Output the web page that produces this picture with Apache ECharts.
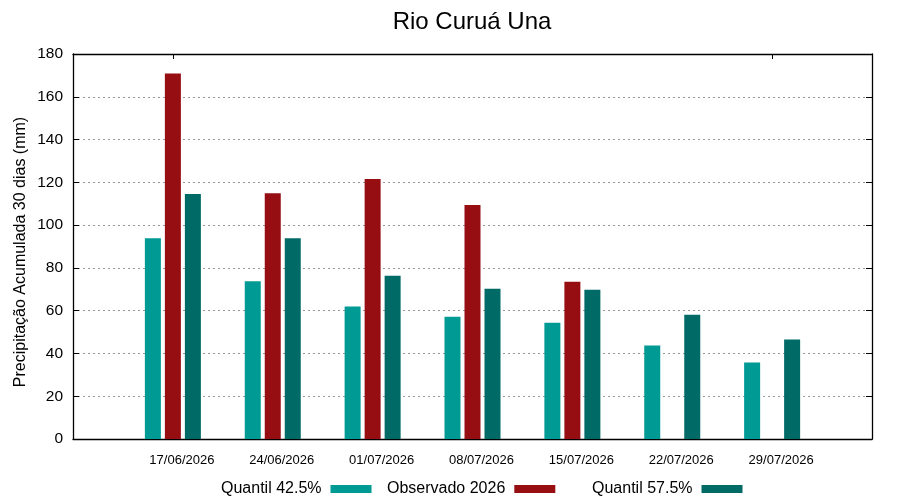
<!DOCTYPE html>
<html>
<head>
<meta charset="utf-8">
<script src="https://cdn.jsdelivr.net/npm/echarts@6/dist/echarts.min.js"></script>
<style>html,body{margin:0;padding:0;background:#fff;}#c{width:900px;height:500px;}</style>
</head>
<body>
<div id="c"></div>
<script>
const categories = ['', '17/06/2026', '24/06/2026', '01/07/2026', '08/07/2026', '15/07/2026', '22/07/2026', '29/07/2026', ''];
const quantil425 = [null, 93.9, 73.7, 62.0, 57.2, 54.4, 43.7, 35.8, null];
const observado2026 = [null, 170.9, 114.9, 121.6, 109.4, 73.5, null, null, null];
const quantil575 = [null, 114.6, 93.9, 76.3, 70.3, 69.8, 58.1, 46.5, null];
const yTicks = [0, 180, 20];

const font = 'Liberation Sans, Arial, sans-serif';
const chart = echarts.init(document.getElementById('c'), null, {renderer: 'canvas'});
const legendBase = {
  orient: 'horizontal', align: 'right', top: 476, itemWidth: 41, itemHeight: 8, itemGap: 0,
  icon: 'rect', textStyle: {fontFamily: font, fontSize: 16, color: '#000', padding: [0, 4, 0, 0]}
};
chart.setOption({
  animation: false,
  backgroundColor: '#fff',
  title: {text: 'Rio Curuá Una', left: 467, textAlign: 'center', top: 5,
    textStyle: {fontFamily: font, fontSize: 24, fontWeight: 'normal', color: '#000'}},
  legend: [
    Object.assign({}, legendBase, {left: 216, data: ['Quantil 42.5%']}),
    Object.assign({}, legendBase, {left: 382, data: ['Observado 2026']}),
    Object.assign({}, legendBase, {left: 587, data: ['Quantil 57.5%']})
  ],
  graphic: [{
    type: 'text', x: 21, y: 252, rotation: Math.PI / 2,
    style: {text: 'Precipitação Acumulada 30 dias (mm)', fontFamily: font, fontSize: 16, fill: '#000',
      align: 'center', verticalAlign: 'middle'}
  }],
  grid: {left: 73, right: 28, top: 54, bottom: 61, containLabel: false},
  xAxis: [{
    type: 'category', data: categories, boundaryGap: false,
    axisLine: {show: true, onZero: false, lineStyle: {color: '#000', width: 1.3}},
    axisTick: {show: false},
    axisLabel: {fontFamily: font, fontSize: 13, color: '#000', margin: 15, padding: [0, 0, 0, 18], interval: 0},
    splitLine: {show: false}
  }, {
    type: 'category', data: categories, boundaryGap: false, position: 'top',
    axisLine: {show: true, onZero: false, lineStyle: {color: '#000', width: 1.3}},
    axisTick: {show: true, inside: true, length: 5, lineStyle: {color: '#000'},
      interval: function (i, v) { return v === '17/06/2026' || v === '29/07/2026'; }},
    axisLabel: {show: false}, splitLine: {show: false}
  }],
  yAxis: [{
    type: 'value', min: yTicks[0], max: yTicks[1], interval: yTicks[2],
    axisLine: {show: true, onZero: false, lineStyle: {color: '#000', width: 1.3}},
    axisTick: {show: true, inside: true, length: 6, lineStyle: {color: '#000'}},
    axisLabel: {fontFamily: font, fontSize: 15.5, color: '#000', margin: 10},
    splitLine: {show: true, lineStyle: {color: '#999', type: [2, 3], width: 1}}
  }, {
    type: 'value', min: yTicks[0], max: yTicks[1], interval: yTicks[2], position: 'right',
    axisLine: {show: true, onZero: false, lineStyle: {color: '#000', width: 1.3}},
    axisTick: {show: true, inside: true, length: 6, lineStyle: {color: '#000'}},
    axisLabel: {show: false}, splitLine: {show: false}
  }],
  series: [
    {name: 'Quantil 42.5%', type: 'bar', data: quantil425, barWidth: 16, barGap: '25%', itemStyle: {color: '#009a95'}},
    {name: 'Observado 2026', type: 'bar', data: observado2026, barWidth: 16, barGap: '25%', itemStyle: {color: '#960d12'}},
    {name: 'Quantil 57.5%', type: 'bar', data: quantil575, barWidth: 16, barGap: '25%', itemStyle: {color: '#006a66'}}
  ]
});
</script>
</body>
</html>
